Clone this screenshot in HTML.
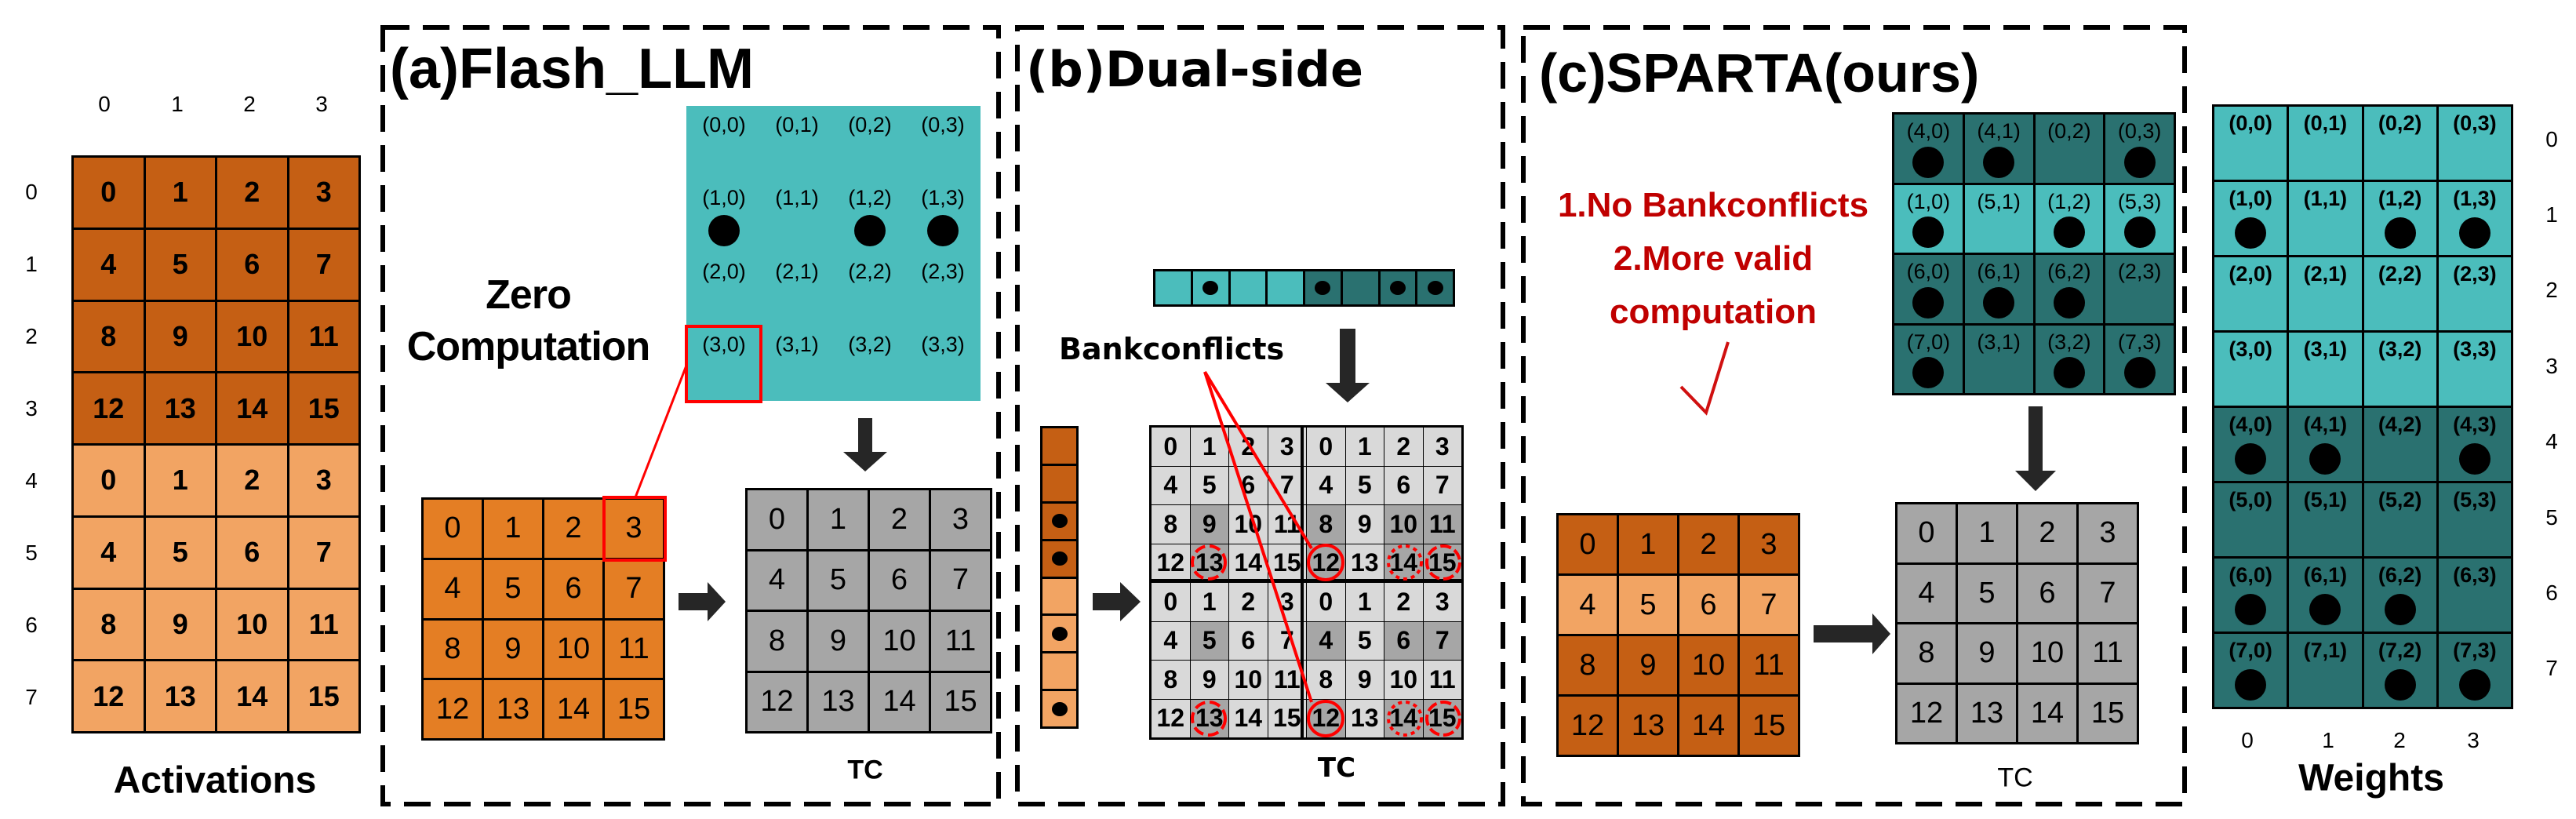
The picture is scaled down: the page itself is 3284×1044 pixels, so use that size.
<!DOCTYPE html>
<html><head><meta charset="utf-8"><style>
body{margin:0;width:3284px;height:1044px;background:#fff;position:relative;overflow:hidden;font-family:"Liberation Sans",sans-serif;}
.a{position:absolute}
.g{position:absolute;display:grid;background:#000;gap:3px;padding:3px;box-sizing:border-box}
.g>div{display:flex;align-items:center;justify-content:center;position:relative;color:#000}
.c4{grid-template-columns:repeat(4,1fr)}
.c8{grid-template-columns:repeat(8,1fr)}
.do{background:#c55f14}.lo{background:#f2a463}.mo{background:#e47e24}
.lt{background:#4bbdbc}.dt{background:#2a7170}.gr{background:#a6a6a6}.lg{background:#d9d9d9}
.t>div{align-items:flex-start;padding-top:6px;font-size:27px}
.d{position:absolute;width:40px;height:40px;border-radius:50%;background:#000;left:50%;top:70%;transform:translate(-50%,-50%)}
.s{position:absolute;width:20px;height:18px;border-radius:50%;background:#000;left:50%;top:50%;transform:translate(-50%,-50%)}
.lbl{position:absolute;font-size:28px;transform:translate(-50%,-50%)}
</style></head><body>

<!-- axis labels activations -->
<div class="lbl" style="left:133px;top:133px">0</div><div class="lbl" style="left:226px;top:133px">1</div><div class="lbl" style="left:318px;top:133px">2</div><div class="lbl" style="left:410px;top:133px">3</div>
<div class="lbl" style="left:40px;top:245px">0</div><div class="lbl" style="left:40px;top:337px">1</div><div class="lbl" style="left:40px;top:429px">2</div><div class="lbl" style="left:40px;top:521px">3</div><div class="lbl" style="left:40px;top:613px">4</div><div class="lbl" style="left:40px;top:705px">5</div><div class="lbl" style="left:40px;top:797px">6</div><div class="lbl" style="left:40px;top:889px">7</div>

<div class="g c4" style="left:91px;top:198px;width:369px;height:737px;font-weight:bold;font-size:36px">
<div class="do">0</div><div class="do">1</div><div class="do">2</div><div class="do">3</div>
<div class="do">4</div><div class="do">5</div><div class="do">6</div><div class="do">7</div>
<div class="do">8</div><div class="do">9</div><div class="do">10</div><div class="do">11</div>
<div class="do">12</div><div class="do">13</div><div class="do">14</div><div class="do">15</div>
<div class="lo">0</div><div class="lo">1</div><div class="lo">2</div><div class="lo">3</div>
<div class="lo">4</div><div class="lo">5</div><div class="lo">6</div><div class="lo">7</div>
<div class="lo">8</div><div class="lo">9</div><div class="lo">10</div><div class="lo">11</div>
<div class="lo">12</div><div class="lo">13</div><div class="lo">14</div><div class="lo">15</div>
</div>
<div class="lbl" style="left:274px;top:995px;font-size:48px;font-weight:bold">Activations</div>

<!-- (a) -->
<div class="a" style="left:497px;top:52px;font-size:72px;font-weight:bold;line-height:1">(a)Flash_LLM</div>
<div class="a" style="left:497px;top:343px;width:353px;text-align:center;font-size:52px;font-weight:bold;line-height:66px;letter-spacing:-1px">Zero<br>Computation</div>
<div class="g c4 t lt" style="left:875px;top:135px;width:375px;height:376px">
<div class="lt">(0,0)</div><div class="lt">(0,1)</div><div class="lt">(0,2)</div><div class="lt">(0,3)</div>
<div class="lt">(1,0)<i class="d"></i></div><div class="lt">(1,1)</div><div class="lt">(1,2)<i class="d"></i></div><div class="lt">(1,3)<i class="d"></i></div>
<div class="lt">(2,0)</div><div class="lt">(2,1)</div><div class="lt">(2,2)</div><div class="lt">(2,3)</div>
<div class="lt">(3,0)</div><div class="lt">(3,1)</div><div class="lt">(3,2)</div><div class="lt">(3,3)</div>
</div>
<div class="g c4" style="left:537px;top:634px;width:311px;height:310px;font-size:38px">
<div class="mo">0</div><div class="mo">1</div><div class="mo">2</div><div class="mo">3</div>
<div class="mo">4</div><div class="mo">5</div><div class="mo">6</div><div class="mo">7</div>
<div class="mo">8</div><div class="mo">9</div><div class="mo">10</div><div class="mo">11</div>
<div class="mo">12</div><div class="mo">13</div><div class="mo">14</div><div class="mo">15</div>
</div>
<div class="g c4" style="left:950px;top:622px;width:315px;height:313px;font-size:38px">
<div class="gr">0</div><div class="gr">1</div><div class="gr">2</div><div class="gr">3</div>
<div class="gr">4</div><div class="gr">5</div><div class="gr">6</div><div class="gr">7</div>
<div class="gr">8</div><div class="gr">9</div><div class="gr">10</div><div class="gr">11</div>
<div class="gr">12</div><div class="gr">13</div><div class="gr">14</div><div class="gr">15</div>
</div>
<div class="lbl" style="left:1103px;top:982px;font-size:34px;font-weight:bold">TC</div>

<!-- (b) -->
<div class="a" style="left:1308px;top:58px;font-family:'DejaVu Sans',sans-serif;font-size:62px;font-weight:bold;line-height:1">(b)Dual-side</div>
<div class="g c8" style="left:1470px;top:343px;width:385px;height:48px">
<div class="lt"></div><div class="lt"><i class="s"></i></div><div class="lt"></div><div class="lt"></div>
<div class="dt"><i class="s"></i></div><div class="dt"></div><div class="dt"><i class="s"></i></div><div class="dt"><i class="s"></i></div>
</div>
<div class="a" style="left:1350px;top:426px;font-family:'DejaVu Sans',sans-serif;font-size:38px;font-weight:bold;line-height:1">Bankconflicts</div>
<div class="g" style="left:1326px;top:543px;width:49px;height:386px;grid-template-rows:repeat(8,1fr)">
<div class="do"></div><div class="do"></div><div class="do"><i class="s"></i></div><div class="do"><i class="s"></i></div>
<div class="lo"></div><div class="lo"><i class="s"></i></div><div class="lo"></div><div class="lo"><i class="s"></i></div>
</div>
<div class="g c8" style="left:1465px;top:542px;width:401px;height:401px;gap:1px;padding:3px;font-size:32px;font-weight:bold">
<div class="lg">0</div><div class="lg">1</div><div class="lg">2</div><div class="lg">3</div><div class="lg">0</div><div class="lg">1</div><div class="lg">2</div><div class="lg">3</div>
<div class="lg">4</div><div class="lg">5</div><div class="lg">6</div><div class="lg">7</div><div class="lg">4</div><div class="lg">5</div><div class="lg">6</div><div class="lg">7</div>
<div class="lg">8</div><div class="gr">9</div><div class="lg">10</div><div class="lg">11</div><div class="gr">8</div><div class="lg">9</div><div class="gr">10</div><div class="gr">11</div>
<div class="lg">12</div><div class="gr">13</div><div class="lg">14</div><div class="lg">15</div><div class="gr">12</div><div class="lg">13</div><div class="gr">14</div><div class="gr">15</div>
<div class="lg">0</div><div class="lg">1</div><div class="lg">2</div><div class="lg">3</div><div class="lg">0</div><div class="lg">1</div><div class="lg">2</div><div class="lg">3</div>
<div class="lg">4</div><div class="gr">5</div><div class="lg">6</div><div class="lg">7</div><div class="gr">4</div><div class="lg">5</div><div class="gr">6</div><div class="gr">7</div>
<div class="lg">8</div><div class="lg">9</div><div class="lg">10</div><div class="lg">11</div><div class="lg">8</div><div class="lg">9</div><div class="lg">10</div><div class="lg">11</div>
<div class="lg">12</div><div class="gr">13</div><div class="lg">14</div><div class="lg">15</div><div class="gr">12</div><div class="lg">13</div><div class="gr">14</div><div class="gr">15</div>
</div>
<div class="lbl" style="left:1704px;top:979px;font-family:'DejaVu Sans',sans-serif;font-size:34px;font-weight:bold">TC</div>

<!-- (c) -->
<div class="a" style="left:1962px;top:58px;font-size:70px;font-weight:bold;line-height:1">(c)SPARTA(ours)</div>
<div class="a" style="left:1944px;top:228px;width:480px;text-align:center;color:#c00000;font-size:44px;font-weight:bold;line-height:68px">1.No Bankconflicts<br>2.More valid<br>computation</div>
<div class="g c4 t" style="left:2412px;top:143px;width:362px;height:361px">
<div class="dt">(4,0)<i class="d"></i></div><div class="dt">(4,1)<i class="d"></i></div><div class="dt">(0,2)</div><div class="dt">(0,3)<i class="d"></i></div>
<div class="lt">(1,0)<i class="d"></i></div><div class="lt">(5,1)</div><div class="lt">(1,2)<i class="d"></i></div><div class="lt">(5,3)<i class="d"></i></div>
<div class="dt">(6,0)<i class="d"></i></div><div class="dt">(6,1)<i class="d"></i></div><div class="dt">(6,2)<i class="d"></i></div><div class="dt">(2,3)</div>
<div class="dt">(7,0)<i class="d"></i></div><div class="dt">(3,1)</div><div class="dt">(3,2)<i class="d"></i></div><div class="dt">(7,3)<i class="d"></i></div>
</div>
<div class="g c4" style="left:1984px;top:654px;width:311px;height:311px;font-size:38px">
<div class="do">0</div><div class="do">1</div><div class="do">2</div><div class="do">3</div>
<div class="lo">4</div><div class="lo">5</div><div class="lo">6</div><div class="lo">7</div>
<div class="do">8</div><div class="do">9</div><div class="do">10</div><div class="do">11</div>
<div class="do">12</div><div class="do">13</div><div class="do">14</div><div class="do">15</div>
</div>
<div class="g c4" style="left:2416px;top:640px;width:311px;height:309px;font-size:38px">
<div class="gr">0</div><div class="gr">1</div><div class="gr">2</div><div class="gr">3</div>
<div class="gr">4</div><div class="gr">5</div><div class="gr">6</div><div class="gr">7</div>
<div class="gr">8</div><div class="gr">9</div><div class="gr">10</div><div class="gr">11</div>
<div class="gr">12</div><div class="gr">13</div><div class="gr">14</div><div class="gr">15</div>
</div>
<div class="lbl" style="left:2569px;top:992px;font-size:34px">TC</div>

<!-- Weights -->
<div class="g c4 t" style="left:2820px;top:133px;width:384px;height:771px;font-weight:bold">
<div class="lt">(0,0)</div><div class="lt">(0,1)</div><div class="lt">(0,2)</div><div class="lt">(0,3)</div>
<div class="lt">(1,0)<i class="d"></i></div><div class="lt">(1,1)</div><div class="lt">(1,2)<i class="d"></i></div><div class="lt">(1,3)<i class="d"></i></div>
<div class="lt">(2,0)</div><div class="lt">(2,1)</div><div class="lt">(2,2)</div><div class="lt">(2,3)</div>
<div class="lt">(3,0)</div><div class="lt">(3,1)</div><div class="lt">(3,2)</div><div class="lt">(3,3)</div>
<div class="dt">(4,0)<i class="d"></i></div><div class="dt">(4,1)<i class="d"></i></div><div class="dt">(4,2)</div><div class="dt">(4,3)<i class="d"></i></div>
<div class="dt">(5,0)</div><div class="dt">(5,1)</div><div class="dt">(5,2)</div><div class="dt">(5,3)</div>
<div class="dt">(6,0)<i class="d"></i></div><div class="dt">(6,1)<i class="d"></i></div><div class="dt">(6,2)<i class="d"></i></div><div class="dt">(6,3)</div>
<div class="dt">(7,0)<i class="d"></i></div><div class="dt">(7,1)</div><div class="dt">(7,2)<i class="d"></i></div><div class="dt">(7,3)<i class="d"></i></div>
</div>
<div class="lbl" style="left:3253px;top:178px">0</div><div class="lbl" style="left:3253px;top:274px">1</div><div class="lbl" style="left:3253px;top:370px">2</div><div class="lbl" style="left:3253px;top:467px">3</div><div class="lbl" style="left:3253px;top:563px">4</div><div class="lbl" style="left:3253px;top:660px">5</div><div class="lbl" style="left:3253px;top:756px">6</div><div class="lbl" style="left:3253px;top:852px">7</div>
<div class="lbl" style="left:2865px;top:944px">0</div><div class="lbl" style="left:2968px;top:944px">1</div><div class="lbl" style="left:3059px;top:944px">2</div><div class="lbl" style="left:3153px;top:944px">3</div>
<div class="lbl" style="left:3023px;top:992px;font-size:48px;font-weight:bold">Weights</div>

<svg class="a" style="left:0;top:0" width="3284" height="1044">
<g fill="none" stroke="#000" stroke-width="6" stroke-dasharray="34,17">
<rect x="488" y="35" width="785" height="990"/>
<rect x="1297" y="35" width="619" height="990"/>
<rect x="1942" y="35" width="843" height="990"/>
</g>
<!-- dual grid dividers -->
<line x1="1660" y1="542" x2="1660" y2="943" stroke="#000" stroke-width="4"/>
<line x1="1465" y1="740" x2="1866" y2="740" stroke="#000" stroke-width="4"/>
<!-- red highlight (a) -->
<rect x="875" y="416" width="95" height="96" fill="none" stroke="#f00" stroke-width="4"/>
<rect x="770" y="634" width="78" height="80" fill="none" stroke="#f00" stroke-width="4"/>
<line x1="875" y1="466" x2="810" y2="634" stroke="#f00" stroke-width="3"/>
<!-- arrows -->
<g fill="#262626">
<polygon points="1094,533 1112,533 1112,576 1131,576 1103,601 1075,576 1094,576"/>
<polygon points="865,756 902,756 902,742 925,767 902,792 902,778 865,778"/>
<polygon points="1708,419 1728,419 1728,488 1746,488 1718,513 1690,488 1708,488"/>
<polygon points="1393,756 1428,756 1428,742 1454,767 1428,792 1428,778 1393,778"/>
<polygon points="2586,518 2604,518 2604,600 2621,600 2595,626 2569,600 2586,600"/>
<polygon points="2312,797 2387,797 2387,782 2410,808 2387,834 2387,819 2312,819"/>
</g>
<!-- bank conflict lines and circles -->
<g stroke="#f00" stroke-width="4" fill="none">
<line x1="1536" y1="474" x2="1672" y2="699"/>
<line x1="1536" y1="474" x2="1672" y2="895"/>
<ellipse cx="1541" cy="717" rx="21" ry="21" stroke-dasharray="14,6"/>
<ellipse cx="1690" cy="717" rx="22" ry="22"/>
<ellipse cx="1791" cy="717" rx="21" ry="21" stroke-dasharray="5,5"/>
<ellipse cx="1840" cy="717" rx="21" ry="21" stroke-dasharray="14,5"/>
<ellipse cx="1541" cy="916" rx="21" ry="21" stroke-dasharray="14,6"/>
<ellipse cx="1690" cy="916" rx="22" ry="22"/>
<ellipse cx="1791" cy="916" rx="21" ry="21" stroke-dasharray="5,5"/>
<ellipse cx="1840" cy="916" rx="21" ry="21" stroke-dasharray="14,5"/>
</g>
<polyline points="2143,493 2175,526 2203,436" fill="none" stroke="#d01010" stroke-width="4"/>
</svg>
</body></html>
